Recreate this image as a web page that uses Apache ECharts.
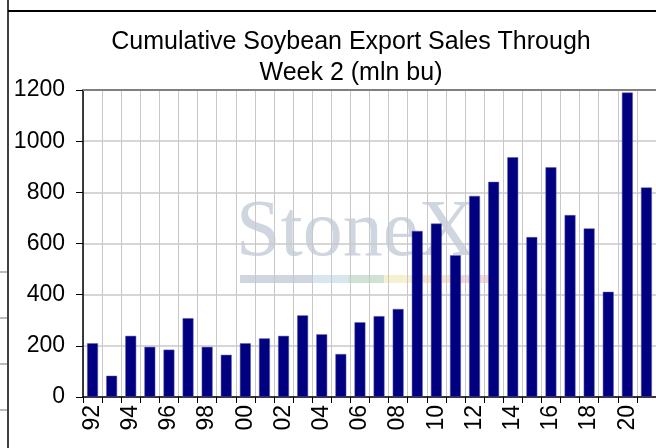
<!DOCTYPE html>
<html>
<head>
<meta charset="utf-8">
<script src="https://cdn.jsdelivr.net/npm/echarts@6/dist/echarts.min.js"></script>
<style>
  html, body { margin: 0; padding: 0; background: #fff; }
  #chart { width: 656px; height: 448px; }
</style>
</head>
<body>
<div id="chart"></div>
<script>
// marketing years, two-digit labels
const years = ['92', '93', '94', '95', '96', '97', '98', '99', '00', '01',
               '02', '03', '04', '05', '06', '07', '08', '09', '10', '11',
               '12', '13', '14', '15', '16', '17', '18', '19', '20', '21'];

// cumulative sales through week 2, mln bu
const sales = [210, 83, 239, 196, 185, 308, 196, 165, 210, 229,
               239, 319, 245, 168, 292, 316, 344, 649, 678, 554,
               786, 841, 937, 625, 898, 711, 659, 411, 1190, 819];

const chart = echarts.init(document.getElementById('chart'));

const font = 'Liberation Sans, Arial, sans-serif';

// watermark strip colours
const stripColors = ['#cfd6e0', '#cfd6e0', '#d8e6f0', '#cfe2d3', '#f5f1cf', '#f6e4cc', '#f3d6d6'];

const graphics = [
    // frame of the pasted picture
    { type: 'line', shape: { x1: 8, y1: 11, x2: 656, y2: 11 }, style: { stroke: '#000', lineWidth: 2 } },
    { type: 'line', shape: { x1: 8, y1: 0, x2: 8, y2: 448 }, style: { stroke: '#000', lineWidth: 1.5 } },
    // watermark
    {
        type: 'text', left: 236, top: 194, z: 0,
        style: { text: 'StoneX', font: '80px "Liberation Serif", "DejaVu Serif", serif', fill: '#cfd6e0' }
    }
];
stripColors.forEach((c, i) => {
    graphics.push({
        type: 'rect', z: 0,
        shape: { x: 240 + i * 36, y: 275, width: 36, height: 8 },
        style: { fill: c }
    });
});
[272, 318, 364, 410].forEach(y => {
    graphics.push({ type: 'line', shape: { x1: 0, y1: y, x2: 7, y2: y }, style: { stroke: '#bbb', lineWidth: 2 } });
});

const option = {
    animation: false,
    title: {
        text: 'Cumulative Soybean Export Sales Through\nWeek 2 (mln bu)',
        left: 346,
        textAlign: 'center',
        top: 22,
        textStyle: { fontFamily: font, fontSize: 25, fontWeight: 'normal', color: '#000', lineHeight: 31 }
    },
    grid: { left: 83, right: -3, top: 90, bottom: 51 },
    xAxis: [{
        type: 'category',
        data: years,
        axisLine: { lineStyle: { color: '#000', width: 1.5 } },
        axisTick: { show: true, interval: 0, length: 6, lineStyle: { color: '#000' } },
        axisLabel: { interval: 1, rotate: 90, margin: 8, fontFamily: font, fontSize: 23, color: '#000' },
        splitLine: { show: true, interval: 0, lineStyle: { color: '#c8c8c8', width: 1 } }
    }, {
        type: 'category',
        position: 'top',
        data: years,
        axisLine: { lineStyle: { color: '#808080', width: 2 } },
        axisTick: { show: false },
        axisLabel: { show: false }
    }],
    yAxis: {
        type: 'value',
        min: 0,
        max: 1200,
        interval: 200,
        axisLine: { show: true, lineStyle: { color: '#000', width: 1.5 } },
        axisTick: { show: true, length: 7, lineStyle: { color: '#000' } },
        axisLabel: { margin: 18, fontFamily: font, fontSize: 23, color: '#000', formatter: v => String(v) },
        splitLine: { lineStyle: { color: '#c8c8c8', width: 1.5 } }
    },
    graphic: graphics,
    series: [{
        type: 'bar',
        data: sales,
        barWidth: '57%',
        itemStyle: { color: '#000080', borderColor: '#5a5aa8', borderWidth: 0.5 },
        z: 3
    }]
};

chart.setOption(option);
</script>
</body>
</html>
